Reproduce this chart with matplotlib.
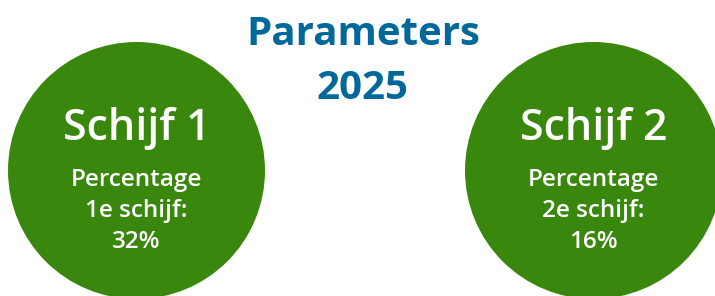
import matplotlib.pyplot as plt
from matplotlib.patches import Circle

# data
title_lines = ["Parameters", "2025"]
schijven = ["Schijf 1", "Schijf 2"]
labels = ["Percentage\n1e schijf:\n32%", "Percentage\n2e schijf:\n16%"]

green = "#39870c"
blue = "#01689b"

W, H = 715, 296
fig = plt.figure(figsize=(W / 100, H / 100), dpi=100)
ax = fig.add_axes([0, 0, 1, 1])
ax.set_xlim(0, W)
ax.set_ylim(H, 0)
ax.set_aspect("equal")
ax.axis("off")

centers = [(136.5, 170.5), (593.5, 170.5)]
r = 128.5

for (cx, cy), name, lab in zip(centers, schijven, labels):
    ax.add_patch(Circle((cx, cy), r, color=green, lw=0))
    ax.text(cx, cy - 30, name, ha="center", va="baseline", color="white",
            fontsize=31, family="Open Sans", fontweight="semibold")
    for i, line in enumerate(lab.split("\n")):
        ax.text(cx, cy + 15 + 31.5 * i, line, ha="center", va="baseline",
                color="white", fontsize=17.5, family="Open Sans",
                fontweight="semibold")

ax.text(363, 45, title_lines[0], ha="center", va="baseline", color=blue,
        fontsize=29, family="Open Sans", fontweight="bold")
ax.text(362, 99, title_lines[1], ha="center", va="baseline", color=blue,
        fontsize=29, family="Open Sans", fontweight="bold")

fig.savefig("out.png", dpi=100)
